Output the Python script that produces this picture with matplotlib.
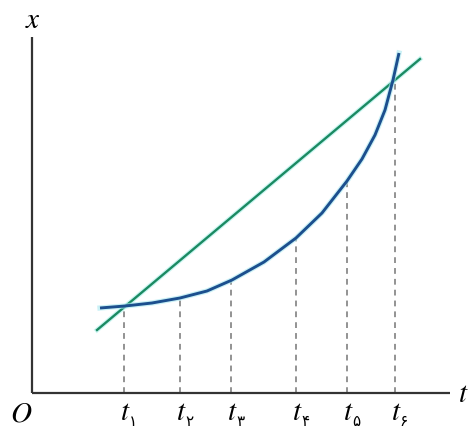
import matplotlib
matplotlib.use("Agg")
import matplotlib.pyplot as plt

plt.rcParams["mathtext.fontset"] = "stix"

# Data (t along horizontal, x vertical)
curve_t = [68, 93, 120, 148, 175, 200, 232, 264, 290, 315, 330, 343, 353, 361, 367]
curve_x = [85, 87, 90, 95, 102, 113, 131, 155, 180, 212, 234, 258, 283, 313, 340]
line_t = [65, 388]
line_x = [63, 334]
tick_t = [92, 148, 199, 264, 315, 363]
tick_top = [87, 95, 113, 156, 212, 313]
tick_subs = ["۱", "۲", "۳", "۴", "۵", "۶"]
axis_t_max = 418
axis_x_max = 356

fig = plt.figure(figsize=(4.7, 4.3), dpi=100)
ax = fig.add_axes([0, 0, 1, 1])
ax.set_xlim(-32, 438)
ax.set_ylim(-37, 393)
ax.axis("off")

# axes lines
ax.plot([0, 0], [0, axis_x_max], color="#333333", lw=1.6, solid_capstyle="butt", zorder=3)
ax.plot([0, axis_t_max], [0, 0], color="#333333", lw=1.6, solid_capstyle="butt", zorder=3)

# dashed verticals
for t, top in zip(tick_t, tick_top):
    ax.plot([t, t], [0, top], color="#8a8a8a", lw=1.3, dashes=(3.2, 2.8), zorder=1)

# halo + lines
ax.plot(line_t, line_x, color="#a8f0ea", lw=3.4, alpha=0.6, zorder=2)
ax.plot(line_t, line_x, color="#1b8a62", lw=1.7, zorder=2)
ax.plot(curve_t, curve_x, color="#a8e8f0", lw=3.8, alpha=0.6, zorder=2,
        solid_joinstyle="round")
ax.plot(curve_t, curve_x, color="#1c4f8e", lw=2.1, zorder=2,
        solid_capstyle="butt", solid_joinstyle="round")

fs = 21
ax.text(1, 373, "$x$", ha="center", va="center", fontsize=fs)
ax.text(431, -1, "$t$", ha="center", va="center", fontsize=fs)
ax.text(-11, -20, "$O$", ha="center", va="center", fontsize=fs)

for t, s in zip(tick_t, tick_subs):
    ax.text(t + 1, -19, "$t$", ha="center", va="center", fontsize=fs)
    ax.text(t + 9, -28, s, ha="center", va="center", family="DejaVu Sans", fontsize=11)

fig.savefig("out.png", dpi=100)
